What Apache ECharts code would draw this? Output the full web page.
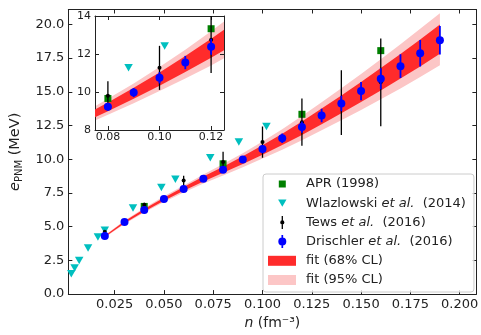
<!DOCTYPE html>
<html>
<head>
<meta charset="utf-8">
<script src="https://cdn.jsdelivr.net/npm/echarts@6/dist/echarts.min.js"></script>
<style>html,body{margin:0;padding:0;background:#fff;}#c{width:481px;height:335px;}</style>
</head>
<body>
<div id="c"></div>
<script>
// ---- data ----
const nDrischler = [0.02,0.03,0.04,0.05,0.06,0.07,0.08,0.09,0.10,0.11,0.12,0.13,0.14,0.15,0.16,0.17,0.18,0.19];
const eDrischler = [4.30,5.35,6.23,7.05,7.80,8.55,9.22,9.97,10.75,11.55,12.38,13.24,14.13,15.05,15.96,16.90,17.86,18.82];
const errDrischler = [0.05,0.07,0.09,0.11,0.13,0.16,0.20,0.24,0.30,0.35,0.42,0.50,0.57,0.68,0.78,0.88,0.98,1.05];

const nTews = [0.02,0.04,0.06,0.08,0.10,0.12,0.14,0.16];
const eTews = [4.62,6.62,8.42,9.80,11.27,12.75,14.20,15.70];
const errTews = [0.05,0.15,0.36,0.76,1.16,1.75,2.40,3.25];

const nAPR = [0.04,0.08,0.12,0.16];
const eAPR = [6.50,9.66,13.33,18.05];

const nWlaz = [0.003,0.0047,0.007,0.0115,0.0165,0.020,0.0343,0.0487,0.0558,0.0735,0.088,0.102];
const eWlaz = [1.50,1.93,2.50,3.42,4.24,4.74,6.38,7.90,8.52,10.10,11.28,12.42];

const fitN = [0.02,0.03,0.04,0.05,0.06,0.07,0.08,0.09,0.10,0.11,0.12,0.13,0.14,0.15,0.16,0.17,0.18,0.19];
const fit68Lo = [4.23,5.26,6.13,6.93,7.66,8.35,8.99,9.64,10.33,11.05,11.80,12.60,13.41,14.24,15.10,15.98,16.88,17.82];
const fit68Hi = [4.33,5.40,6.31,7.15,7.94,8.71,9.45,10.22,11.03,11.89,12.80,13.76,14.73,15.72,16.76,17.80,18.88,19.98];
const fit95Lo = [4.19,5.20,6.05,6.83,7.54,8.20,8.80,9.41,10.05,10.71,11.40,12.14,12.88,13.64,14.44,15.25,16.09,16.97];
const fit95Hi = [4.37,5.46,6.39,7.25,8.06,8.86,9.64,10.45,11.31,12.23,13.20,14.22,15.26,16.32,17.42,18.53,19.67,20.83];

const mainXTicks = [0.025,0.05,0.075,0.1,0.125,0.15,0.175,0.2];
const mainYTicks = [0,2.5,5,7.5,10,12.5,15,17.5,20];
const insetXTicks = [0.08,0.10,0.12];
const insetYTicks = [8,10,12,14];

const names = ['APR (1998)','Wlazlowski et al. (2014)','Tews et al. (2016)','Drischler et al. (2016)','fit (68% CL)','fit (95% CL)'];

// ---- styling ----
const FONT = 'DejaVu Sans';
const AX = '#222';
const C_APR = '#008000', C_WL = '#00bfbf', C_TW = '#000000', C_DR = '#0000ff';
const C_68 = '#ff2b2b', C_95 = '#fcc6c6';

function bandSeries(name, lo, hi, color, gi, z) {
  return {
    type: 'custom', name, xAxisIndex: gi, yAxisIndex: gi, clip: true, z, silent: true,
    data: [[fitN[0], lo[0]]],
    renderItem: function (params, api) {
      const pts = [];
      for (let i = 0; i < fitN.length; i++) pts.push(api.coord([fitN[i], hi[i]]));
      for (let i = fitN.length - 1; i >= 0; i--) pts.push(api.coord([fitN[i], lo[i]]));
      return { type: 'polygon', shape: { points: pts }, style: { fill: color } };
    }
  };
}
function errSeries(name, ns, es, errs, color, w, gi, z) {
  return {
    type: 'custom', name, xAxisIndex: gi, yAxisIndex: gi, clip: true, z, silent: true,
    data: ns.map((n, i) => [n, es[i] - errs[i], es[i] + errs[i]]),
    encode: { x: 0, y: [1, 2] },
    renderItem: function (params, api) {
      const p1 = api.coord([api.value(0), api.value(1)]);
      const p2 = api.coord([api.value(0), api.value(2)]);
      return { type: 'line', shape: { x1: p1[0], y1: p1[1], x2: p2[0], y2: p2[1] }, style: { stroke: color, lineWidth: w } };
    }
  };
}
function scat(name, ns, es, symbol, size, color, gi, z, rot) {
  return {
    type: 'scatter', name, xAxisIndex: gi, yAxisIndex: gi, z, silent: true,
    symbol, symbolSize: size, symbolRotate: rot || 0,
    itemStyle: { color, opacity: 1 },
    data: ns.map((n, i) => [n, es[i]])
  };
}
function seriesFor(gi) {
  const s = [];
  s.push(bandSeries(names[5], fit95Lo, fit95Hi, C_95, gi, 1));
  s.push(bandSeries(names[4], fit68Lo, fit68Hi, C_68, gi, 2));
  s.push(scat(names[0], nAPR, eAPR, 'rect', 7, C_APR, gi, 3));
  s.push(scat(names[1], nWlaz, eWlaz, 'triangle', [8.5, 7.5], C_WL, gi, 3, 180));
  s.push(errSeries(names[2], nTews, eTews, errTews, C_TW, 1.3, gi, 4));
  s.push(scat(names[2], nTews, eTews, 'circle', 4, C_TW, gi, 4));
  s.push(errSeries(names[3], nDrischler, eDrischler, errDrischler, C_DR, 1.8, gi, 5));
  s.push(scat(names[3], nDrischler, eDrischler, 'circle', 8, C_DR, gi, 5));
  return s;
}

function valAxis(o) {
  const base = {
    type: 'value', gridIndex: o.grid, position: o.pos, min: o.min, max: o.max,
    axisLine: { show: true, onZero: false, lineStyle: { color: AX, width: 1 } },
    axisTick: { show: true, inside: true, length: 4, customValues: o.ticks, lineStyle: { color: AX, width: 1 } },
    axisLabel: { show: !!o.fmt, customValues: o.ticks, formatter: o.fmt, margin: o.margin || 4,
      fontSize: o.fs || 13, color: AX, fontFamily: FONT },
    splitLine: { show: false }
  };
  return Object.assign(base, o.extra || {});
}

const legendIcons = [
  'path://M0 0 M33 14 M10.8 3.5 L17.8 3.5 L17.8 10.5 L10.8 10.5 Z',
  'path://M0 0 M33 14 M10.1 3.2 L18.5 3.2 L14.3 10.6 Z',
  'path://M0 0 M33 14 M13.65 0.5 L14.95 0.5 L14.95 5 L13.65 5 Z M13.65 9 L14.95 9 L14.95 13.5 L13.65 13.5 Z M12.2 7 A2.1 2.1 0 1 1 16.4 7 A2.1 2.1 0 1 1 12.2 7 Z',
  'path://M0 0 M33 14 M13.45 0.5 L15.15 0.5 L15.15 3.2 L13.45 3.2 Z M13.45 10.8 L15.15 10.8 L15.15 13.5 L13.45 13.5 Z M10.3 7 A4 4 0 1 1 18.3 7 A4 4 0 1 1 10.3 7 Z',
  'path://M0 0 M33 14 M0 2 L28 2 L28 12 L0 12 Z',
  'path://M0 0 M33 14 M0 2 L28 2 L28 12 L0 12 Z'
];
const legendColors = [C_APR, C_WL, C_TW, C_DR, C_68, C_95];

const option = {
  animation: false,
  backgroundColor: '#fff',
  textStyle: { fontFamily: FONT },
  grid: [
    { left: 63, top: 9.5, right: 4, bottom: 33.5, show: false },
    { left: 95, top: 16, width: 129, height: 114, show: true, backgroundColor: '#fff', borderWidth: 0, z: 10 }
  ],
  xAxis: [
    valAxis({ grid: 0, pos: 'bottom', min: 0.0015, max: 0.2085, ticks: mainXTicks, fmt: v => v.toFixed(3),
      extra: { name: '{i|n} (fm⁻³)', nameLocation: 'middle', nameGap: 18,
        nameTextStyle: { fontSize: 14, color: AX, fontFamily: FONT, rich: { i: { fontStyle: 'italic', fontSize: 14, color: AX, fontFamily: FONT } } } } }),
    valAxis({ grid: 1, pos: 'bottom', min: 0.075, max: 0.125, ticks: insetXTicks, fmt: v => v.toFixed(2), fs: 11, margin: 2, extra: { z: 11 } }),
    valAxis({ grid: 0, pos: 'top', min: 0.0015, max: 0.2085, ticks: mainXTicks }),
    valAxis({ grid: 1, pos: 'top', min: 0.075, max: 0.125, ticks: insetXTicks, extra: { z: 11 } })
  ],
  yAxis: [
    valAxis({ grid: 0, pos: 'left', min: 0, max: 21.1, ticks: mainYTicks, fmt: v => v.toFixed(1),
      extra: { name: '{i|e}{s|PNM} (MeV)', nameLocation: 'middle', nameGap: 35,
        nameTextStyle: { fontSize: 14.5, color: AX, fontFamily: FONT,
          rich: { i: { fontStyle: 'italic', fontSize: 14.5, color: AX, fontFamily: FONT },
                  s: { fontSize: 10, color: AX, fontFamily: FONT, padding: [8, 0, 0, 0] } } } } }),
    valAxis({ grid: 1, pos: 'left', min: 8, max: 14, ticks: insetYTicks, fmt: v => String(v), fs: 11, margin: 4, extra: { z: 11 } }),
    valAxis({ grid: 0, pos: 'right', min: 0, max: 21.1, ticks: mainYTicks }),
    valAxis({ grid: 1, pos: 'right', min: 8, max: 14, ticks: insetYTicks, extra: { z: 11 } })
  ],
  legend: {
    orient: 'vertical', left: 263, top: 174, selectedMode: false,
    itemWidth: 33, itemHeight: 14, itemGap: 5.2,
    padding: [3, 8, 5, 5],
    backgroundColor: 'rgba(255,255,255,0.8)', borderColor: '#cccccc', borderWidth: 1, borderRadius: 3,
    textStyle: { fontSize: 13, color: AX, fontFamily: FONT,
      rich: { n: { fontSize: 13, color: AX, fontFamily: FONT }, it: { fontSize: 13, color: AX, fontFamily: FONT, fontStyle: 'italic' } } },
    formatter: function (name) {
      const m = name.match(/^(.*?)(et al\.)(.*)$/);
      if (m) return '{n|' + m[1] + '}{it|' + m[2] + '}{n|' + m[3].replace(' (', '  (') + '}';
      return '{n|' + name + '}';
    },
    data: names.map((nm, i) => ({ name: nm, icon: legendIcons[i], itemStyle: { color: legendColors[i], borderWidth: 0 } }))
  },
  series: seriesFor(0).concat(seriesFor(1).map(s => Object.assign(s, { z: (s.z || 0) + 10 })))
};

const chart = echarts.init(document.getElementById('c'), null, { renderer: 'canvas' });
chart.setOption(option);
</script>
</body>
</html>
